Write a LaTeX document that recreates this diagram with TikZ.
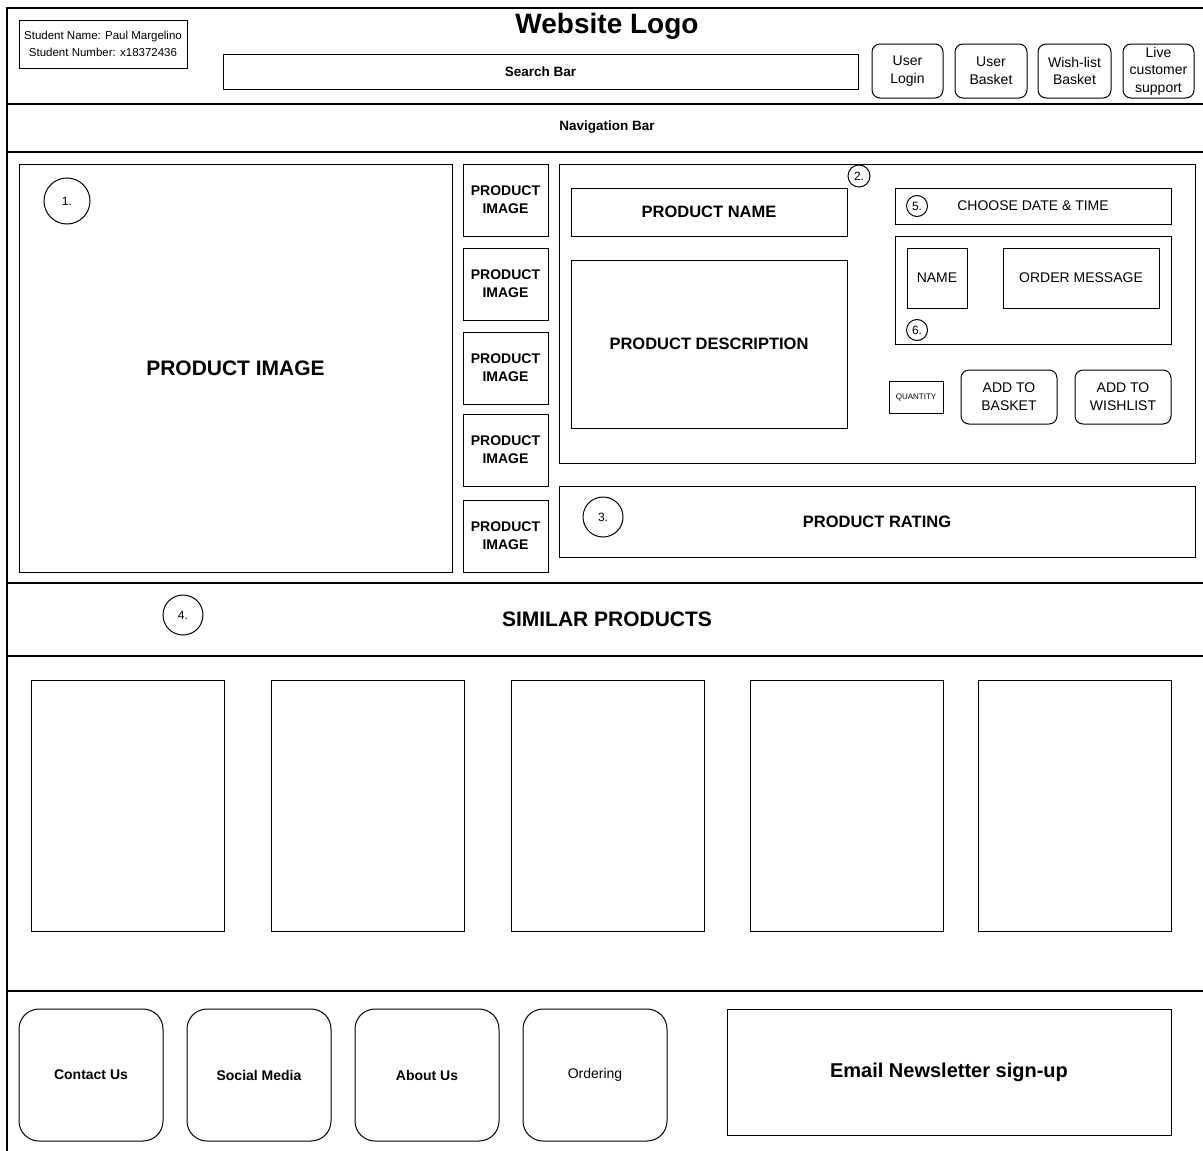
\documentclass[tikz,border=0pt]{standalone}
\usepackage{fontspec}
\setmainfont{Liberation Sans}

\tikzset{
	box/.style 2 args={draw,line width=1pt,minimum width=#1,minimum height=#2,inner sep=0pt,align=center},
	rbox/.style 2 args={box={#1}{#2},rounded corners=8pt},
	fbox/.style 2 args={box={#1}{#2},rounded corners=20pt},
	num/.style={draw,circle,line width=1pt,minimum size=#1,inner sep=0pt,font=\fontsize{12}{14}\selectfont},
	small/.style={font=\fontsize{14}{17.5}\selectfont},
	smallb/.style={font=\fontsize{14}{18}\selectfont\bfseries},
	midb/.style={font=\fontsize{16.5}{20}\selectfont\bfseries},
	bigb/.style={font=\fontsize{21}{25}\selectfont\bfseries}
}

\begin{document}
\begin{tikzpicture}[x=1pt,y=-1pt]
	\useasboundingbox (0,0) rectangle (1203,1151);
	% frame
	\draw[line width=1.2pt] (7,1151) -- (7,8) -- (1203,8);
	\foreach \yy in {104,152,583,656,991}
		\draw[line width=1.2pt] (7,\yy) -- (1203,\yy);

	% header
	\node[box={168}{48},font=\fontsize{11.5}{17}\selectfont] (student) at (103,44) {Student Name: Paul Margelino\\Student Number: x18372436};
	\node[font=\fontsize{28}{32}\selectfont\bfseries] (logo) at (607,26) {Website Logo};
	\node[box={635}{35},font=\fontsize{13.5}{16}\selectfont\bfseries] (search) at (540.5,71.5) {Search Bar};
	\node[rbox={71}{54},small] (login) at (907.5,71) {User\\Login};
	\node[rbox={72}{54},small] (basket) at (991,71) {User\\Basket};
	\node[rbox={73}{54},small] (wish) at (1074.5,71) {Wish-list\\Basket};
	\node[rbox={71}{54},small] (live) at (1158.5,71) {Live\\customer\\support};
	\node[font=\fontsize{13.5}{16}\selectfont\bfseries] (nav) at (607,127) {Navigation Bar};

	% product
	\node[box={433}{408},bigb] (mainimg) at (235.5,368) {PRODUCT IMAGE};
	\node[num=46] (n1) at (67,201) {1.};
	\foreach \yy [count=\i] in {200,284,368,450,536}
		\node[box={85}{72},smallb] (thumb\i) at (505.5,\yy) {PRODUCT\\IMAGE};
	\node[box={636}{299}] (info) at (877,313.5) {};
	\node[box={276}{48},midb] (pname) at (709,212) {PRODUCT NAME};
	\node[box={276}{168},midb] (pdesc) at (709,344) {PRODUCT DESCRIPTION};
	\node[num=22,fill=white] (n2) at (859,176) {2.};
	\node[box={276}{36},small] (date) at (1033,206) {CHOOSE DATE \& TIME};
	\node[num=21] (n5) at (917,206) {5.};
	\node[box={276}{108}] (form) at (1033,290) {};
	\node[box={60}{60},small] (fname) at (937,278) {NAME};
	\node[box={156}{60},small] (msg) at (1081,278) {ORDER MESSAGE};
	\node[num=21] (n6) at (917,330) {6.};
	\node[box={54}{32},font=\fontsize{8}{9}\selectfont] (qty) at (916,397) {QUANTITY};
	\node[rbox={96}{54},font=\fontsize{14}{18}\selectfont] (addb) at (1009,397) {ADD TO\\BASKET};
	\node[rbox={96}{54},font=\fontsize{14}{18}\selectfont] (addw) at (1123,397) {ADD TO\\WISHLIST};
	\node[box={636}{71},midb] (rating) at (877,521.5) {PRODUCT RATING};
	\node[num=40] (n3) at (603,517) {3.};

	% similar products
	\node[num=40] (n4) at (183,615) {4.};
	\node[bigb] (similar) at (607,619) {SIMILAR PRODUCTS};
	\foreach \xx [count=\i] in {127.5,367.5,607.5,847,1075}
		\node[box={193}{251}] (sim\i) at (\xx,805.5) {};

	% footer
	\node[fbox={144}{132},smallb] (contact) at (91,1075) {Contact Us};
	\node[fbox={144}{132},smallb] (social) at (259,1075) {Social Media};
	\node[fbox={144}{132},smallb] (about) at (427,1075) {About Us};
	\node[fbox={144}{132},font=\fontsize{14}{18}\selectfont] (order) at (595,1075) {Ordering};
	\node[box={444}{126},font=\fontsize{20}{24}\selectfont\bfseries] (email) at (949,1072) {Email Newsletter sign-up};
\end{tikzpicture}
\end{document}
